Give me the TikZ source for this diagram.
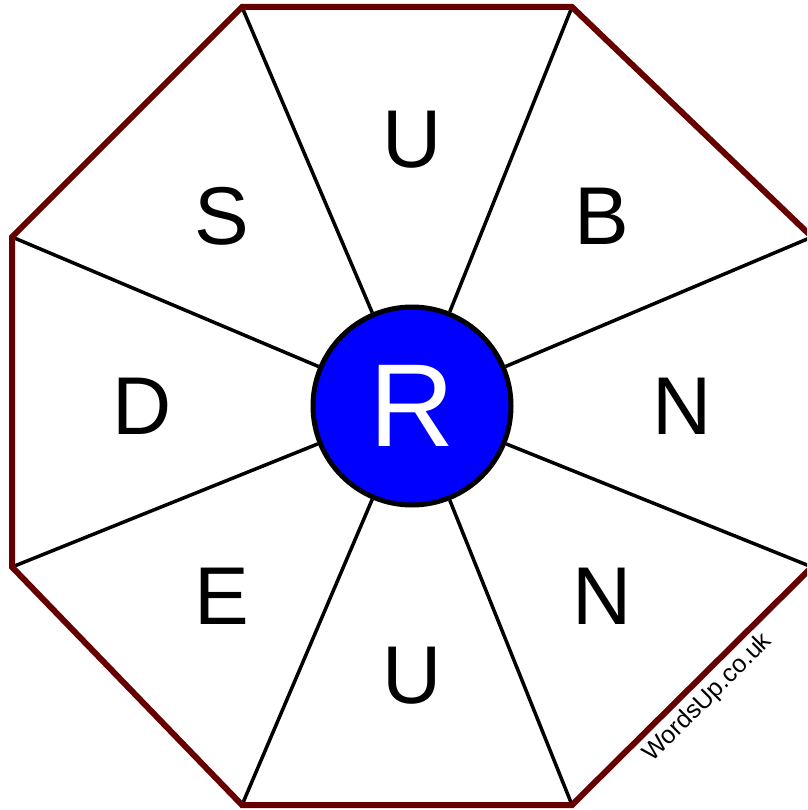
\documentclass[tikz,border=0pt]{standalone}
\usepackage{fontspec}
\setmainfont{Liberation Sans}
\definecolor{rim}{RGB}{102,0,0}
\begin{document}
\begin{tikzpicture}[x=1pt,y=-1pt,
 spoke/.style={line width=3.5pt},
 letter/.style={font=\fontsize{82}{82}\selectfont}]
 \clip (0,0) rectangle (807,810);
 \coordinate (v1) at (242,7);
 \coordinate (v2) at (572,7);
 \coordinate (v3) at (812,237);
 \coordinate (v4) at (812,567);
 \coordinate (v5) at (572,805);
 \coordinate (v6) at (242,805);
 \coordinate (v7) at (12,567);
 \coordinate (v8) at (12,237);
 \node[circle,draw,line width=5pt,fill=blue,minimum size=198pt,inner sep=0pt,
   text=white,font=\fontsize{118}{118}\selectfont] (hub) at (412,406) {R};
 % spokes
 \draw[spoke] (v1) -- (hub); \draw[spoke] (v2) -- (hub);
 \draw[spoke] (v3) -- (hub); \draw[spoke] (v4) -- (hub);
 \draw[spoke] (v5) -- (hub); \draw[spoke] (v6) -- (hub);
 \draw[spoke] (v7) -- (hub); \draw[spoke] (v8) -- (hub);
 \draw[rim,line width=6pt,line join=miter]
   (v1) -- (v2) -- (v3) -- (v4) -- (v5) -- (v6) -- (v7) -- (v8) -- cycle;
 % letters
 \node[letter] (lu) at (412,140) {U};
 \node[letter] (lb) at (602,216) {B};
 \node[letter] (ln) at (682,406) {N};
 \node[letter] (lm) at (602,596) {N};
 \node[letter] (ld) at (412,676) {U};
 \node[letter] (le) at (222,596) {E};
 \node[letter] (lw) at (142,406) {D};
 \node[letter] (ls) at (222,216) {S};
 \node[font=\fontsize{25}{25}\selectfont,rotate=45] (site) at (708,698) {WordsUp.co.uk};
\end{tikzpicture}
\end{document}
